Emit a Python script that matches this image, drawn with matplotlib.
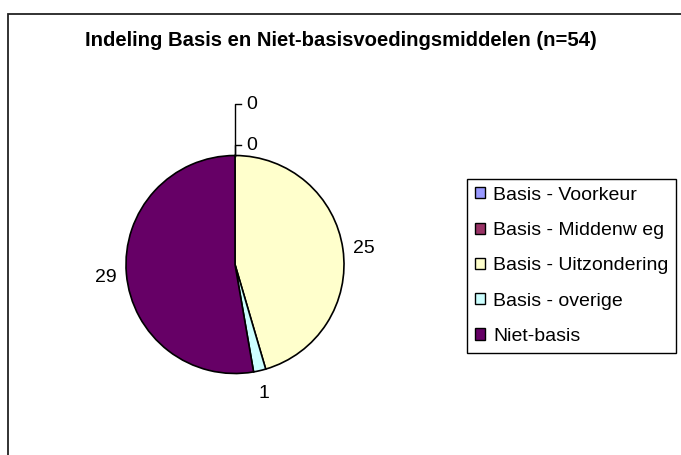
import numpy as np
import matplotlib
matplotlib.use('Agg')
import matplotlib.pyplot as plt
from matplotlib.patches import Patch, Rectangle

plt.rcParams['font.family'] = ['Liberation Sans', 'DejaVu Sans']

TITLE = 'Indeling Basis en Niet-basisvoedingsmiddelen (n=54)'
categories = ['Basis - Voorkeur', 'Basis - Middenw eg', 'Basis - Uitzondering',
              'Basis - overige', 'Niet-basis']
values = [0, 0, 25, 1, 29]
colors = ['#9999FF', '#993366', '#FFFFCC', '#CCFFFF', '#660066']

W, H = 681, 455
fig = plt.figure(figsize=(W / 100, H / 100), dpi=100)

# outer chart frame (right/bottom edges fall outside the image)
fig.patches.append(Rectangle((7.5 / W, -0.05), 1.2, 1 - 14 / H + 0.05,
                             transform=fig.transFigure, fill=False,
                             edgecolor='#222222', linewidth=1.3))

fig.text(341 / W, 1 - 41 / H, TITLE, ha='center', va='center',
         fontsize=14.6, fontweight='bold')

# pie axes: centre (235, 264.5) px, radius 109 px
cx, cy, r = 235, 264.5, 109
ax = fig.add_axes([(cx - r) / W, (H - cy - r) / H, 2 * r / W, 2 * r / H])

wedges, _ = ax.pie(values, colors=colors, startangle=90, counterclock=False,
                   radius=1, wedgeprops=dict(edgecolor='black', linewidth=1.2))
ax.set_xlim(-1, 1)
ax.set_ylim(-1, 1)
ax.axis('off')

zero_y = [1.472, 1.096]
zi = 0
for w, v in zip(wedges, values):
    if v == 0:
        y = zero_y[zi]
        zi += 1
        ax.plot([0, 0, 0.055], [1.0, y, y], color='black', lw=1, clip_on=False)
        ax.text(0.105, y, str(v), ha='left', va='center', fontsize=14, clip_on=False)
        continue
    mid = np.deg2rad((w.theta1 + w.theta2) / 2)
    d = 1.19
    ax.text(d * np.cos(mid), d * np.sin(mid) - 0.02, str(v), ha='center', va='center',
            fontsize=14, clip_on=False)

handles = [Patch(facecolor=c, edgecolor='black', linewidth=1) for c in colors]
leg = fig.legend(handles, categories, loc='upper left',
                 bbox_to_anchor=(467 / W, 1 - 179 / H),
                 fontsize=14, frameon=True, fancybox=False, shadow=False,
                 edgecolor='black', framealpha=1, borderpad=0.4,
                 labelspacing=0.94, handlelength=0.5, handleheight=0.5,
                 handletextpad=0.45, borderaxespad=0)
leg.get_frame().set_linewidth(1)

fig.savefig('out.png', dpi=100)
